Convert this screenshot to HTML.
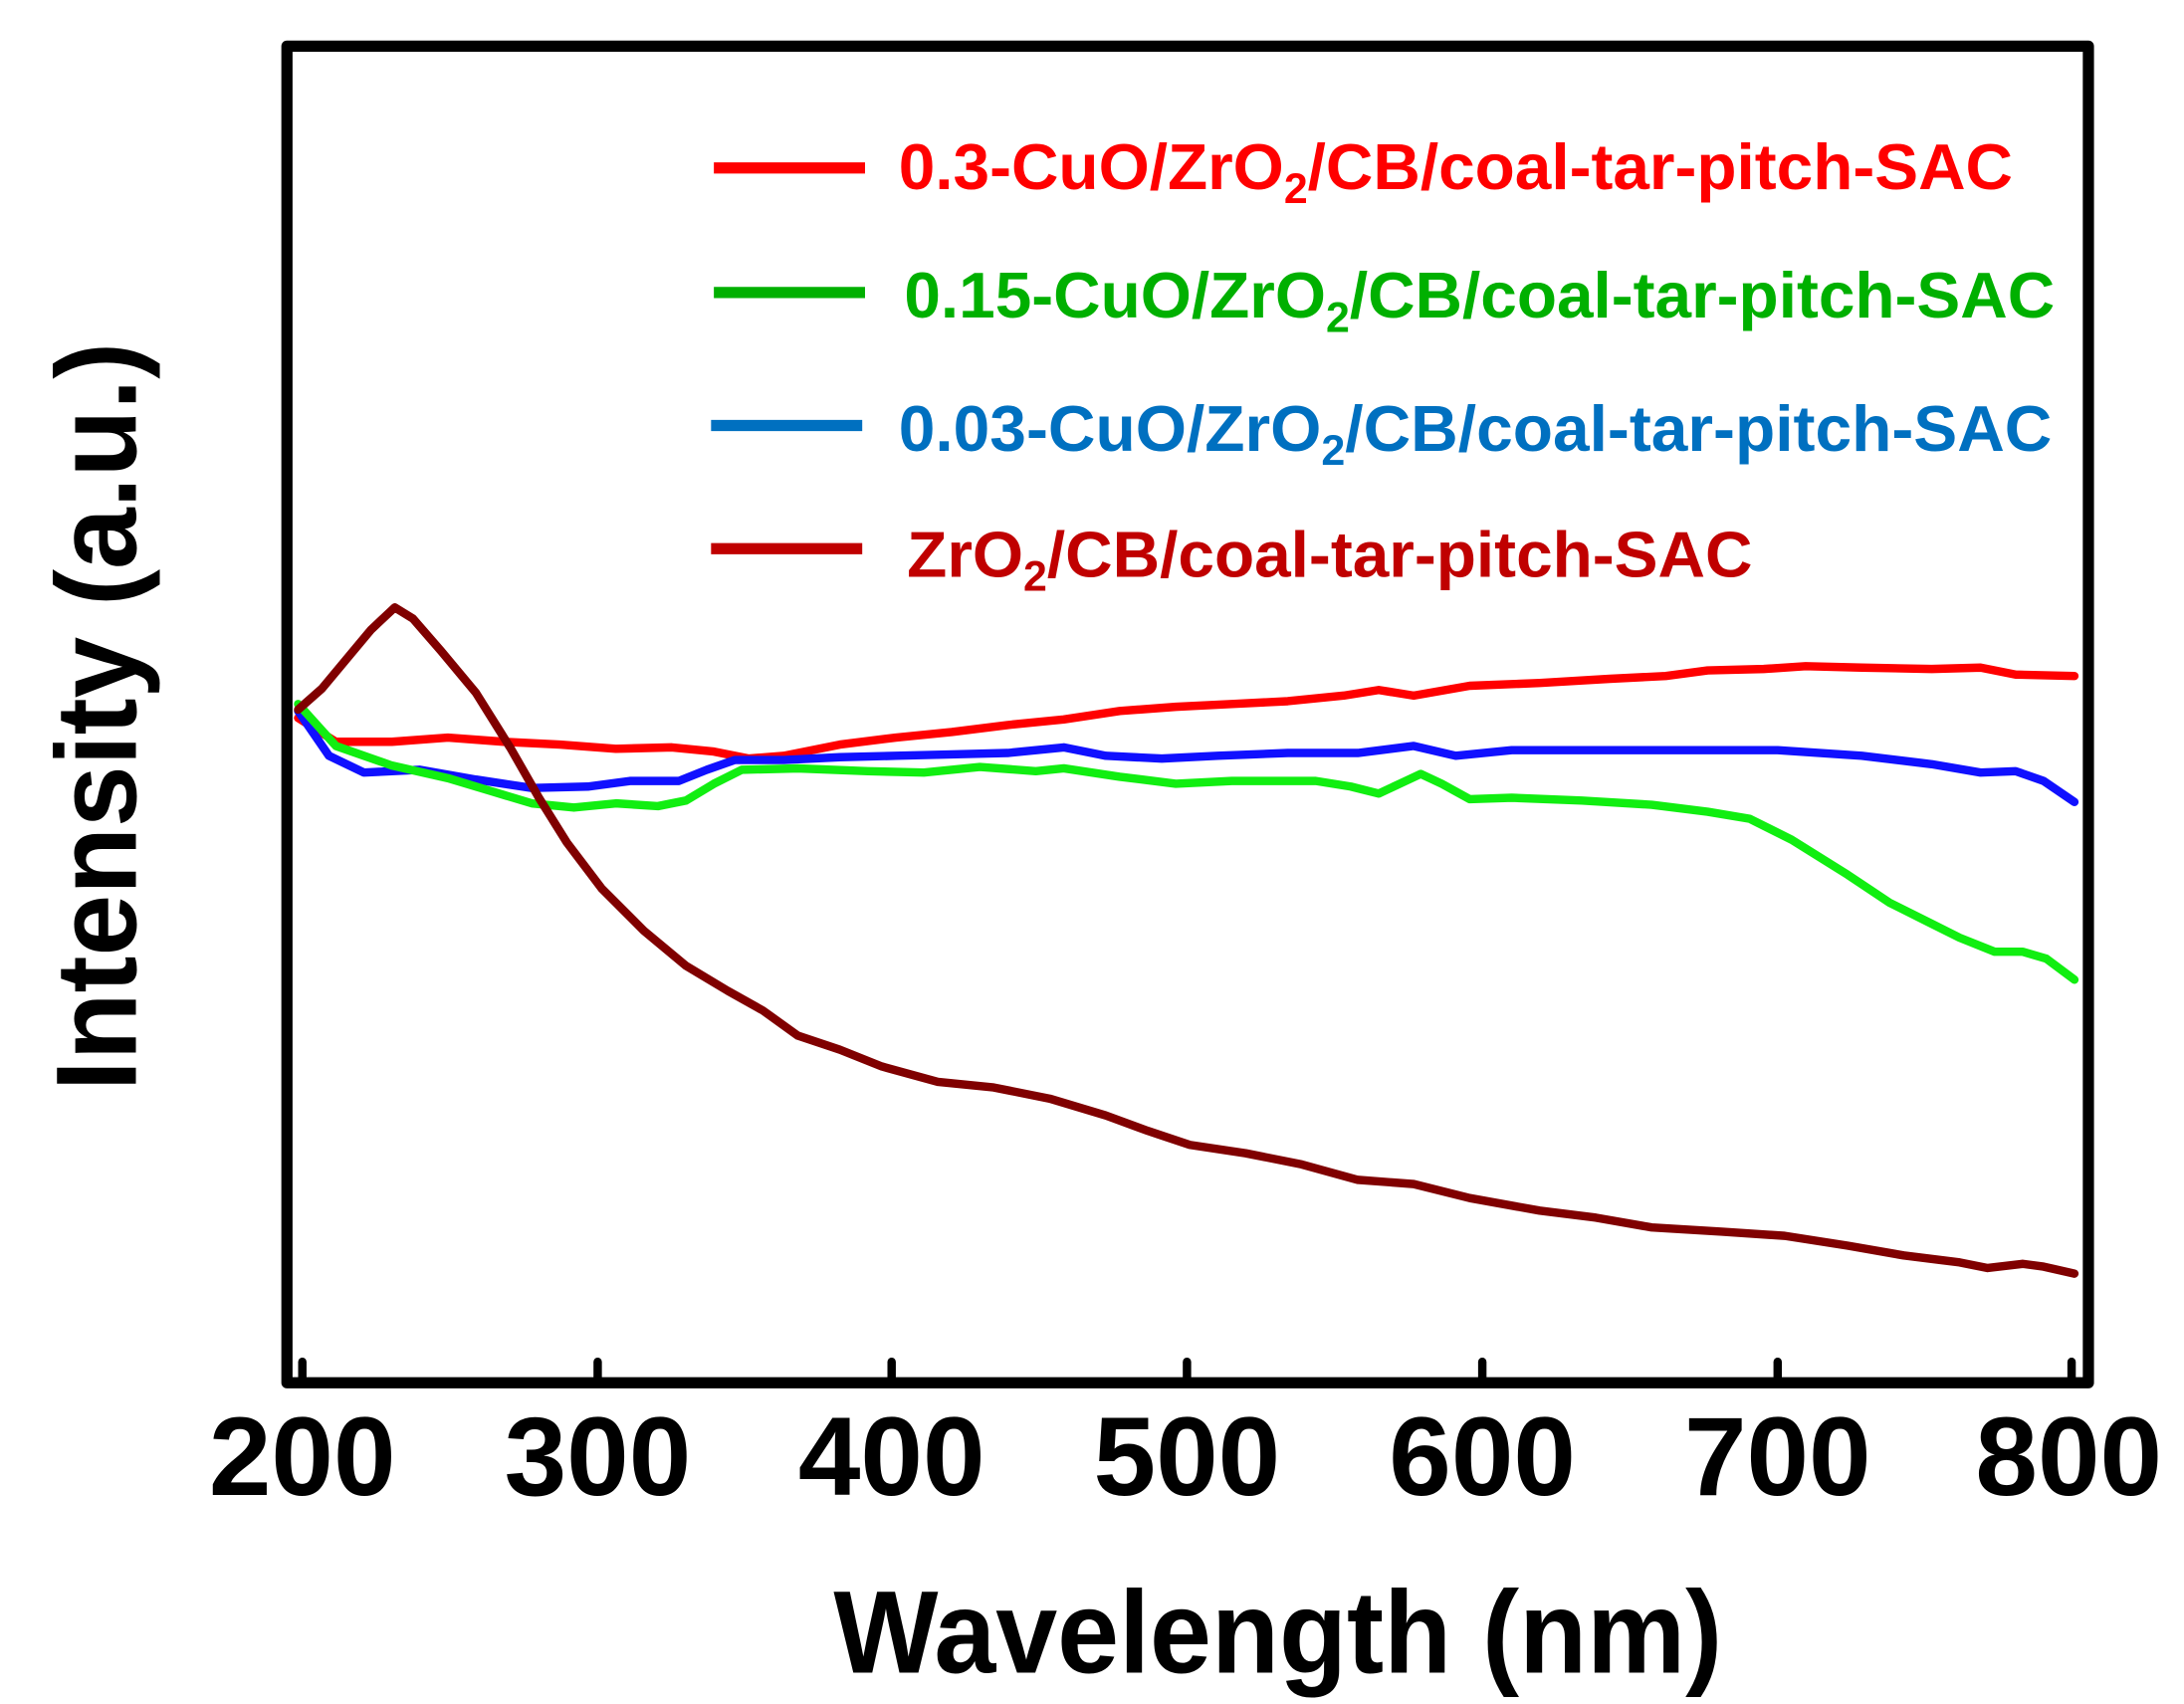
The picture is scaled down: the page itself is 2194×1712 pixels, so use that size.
<!DOCTYPE html>
<html><head><meta charset="utf-8"><style>html,body{margin:0;padding:0;background:#fff}svg{display:block}</style></head>
<body>
<svg width="2194" height="1712" viewBox="0 0 1560.3 1217.5" preserveAspectRatio="none" xmlns="http://www.w3.org/2000/svg" font-family="Liberation Sans, Arial, sans-serif" font-weight="bold">
<rect x="0" y="0" width="1560.3" height="1217.5" fill="#fff"/>
<g fill="none" stroke-width="6" stroke-linejoin="round" stroke-linecap="round">
<polyline stroke="#ff0000" points="213,513 240,530 280,530 320,527 360,530 400,532 440,535 480,534 510,537 535,542 560,540 600,532 640,527 680,523 720,518 760,514 800,508 840,505 880,503 920,501 960,497 985,493 1010,497 1050,490 1100,488 1150,485 1190,483 1220,479 1260,478 1290,476 1330,477 1380,478 1415,477 1440,482 1482,483"/>
<polyline stroke="#1010ff" points="213,508 235,540 260,552 300,550 340,557 380,563 420,562 450,558 485,558 505,550 525,543 560,543 600,541 640,540 680,539 720,538 760,534 790,540 830,542 870,540 920,538 970,538 1010,533 1040,540 1080,536 1150,536 1270,536 1330,540 1380,546 1415,552 1440,551 1460,558 1482,573"/>
<polyline stroke="#11ee11" points="213,503 240,533 280,547 320,556 350,565 380,574 410,577 440,574 470,576 490,572 510,560 530,550 570,549 620,551 660,552 700,548 740,551 760,549 800,555 840,560 880,558 940,558 965,562 985,567 1000,560 1015,553 1030,560 1050,571 1080,570 1130,572 1180,575 1220,580 1250,585 1280,600 1320,625 1350,645 1380,660 1400,670 1425,680 1445,680 1462,685 1482,700"/>
<polyline stroke="#800000" points="213,507 230,492 250,468 265,450 282,434 295,442 315,465 340,495 365,535 385,570 405,602 430,635 460,665 490,690 520,708 545,722 570,740 600,750 630,762 670,773 710,777 750,785 790,797 820,808 850,818 890,824 930,832 970,843 1010,846 1050,856 1100,865 1140,870 1180,877 1230,880 1275,883 1320,890 1360,897 1400,902 1420,906 1445,903 1460,905 1482,910"/>
</g>
<rect x="205" y="33" width="1287" height="955" fill="none" stroke="#000" stroke-width="8" stroke-linejoin="round"/>
<g stroke="#000" stroke-width="6" stroke-linecap="round">
<line x1="216" y1="986" x2="216" y2="973"/><line x1="427" y1="986" x2="427" y2="973"/><line x1="637" y1="986" x2="637" y2="973"/><line x1="848" y1="986" x2="848" y2="973"/><line x1="1059" y1="986" x2="1059" y2="973"/><line x1="1270" y1="986" x2="1270" y2="973"/><line x1="1480" y1="986" x2="1480" y2="973"/>
</g>
<g font-size="80" text-anchor="middle" fill="#000">
<text x="216" y="1068">200</text><text x="427" y="1068">300</text><text x="637" y="1068">400</text><text x="848" y="1068">500</text><text x="1059" y="1068">600</text><text x="1270" y="1068">700</text><text x="1478" y="1068">800</text>
</g>
<text x="913" y="1195" font-size="84" text-anchor="middle" textLength="635" lengthAdjust="spacingAndGlyphs">Wavelength (nm)</text>
<text transform="translate(97,512) rotate(-90)" font-size="82" text-anchor="middle" textLength="535" lengthAdjust="spacingAndGlyphs">Intensity (a.u.)</text>
<g stroke-width="8">
<line x1="510" y1="120" x2="618" y2="120" stroke="#ff0000"/>
<line x1="510" y1="209" x2="618" y2="209" stroke="#00b000"/>
<line x1="508" y1="304" x2="616" y2="304" stroke="#0070c0"/>
<line x1="508" y1="392" x2="616" y2="392" stroke="#c00000"/>
</g>
<g font-size="46">
<text x="642" y="135" fill="#ff0000" textLength="796" lengthAdjust="spacingAndGlyphs">0.3-CuO/ZrO<tspan font-size="30" dy="10">2</tspan><tspan dy="-10">/CB/coal-tar-pitch-SAC</tspan></text>
<text x="646" y="227" fill="#00b000" textLength="822" lengthAdjust="spacingAndGlyphs">0.15-CuO/ZrO<tspan font-size="30" dy="10">2</tspan><tspan dy="-10">/CB/coal-tar-pitch-SAC</tspan></text>
<text x="642" y="322" fill="#0070c0" textLength="824" lengthAdjust="spacingAndGlyphs">0.03-CuO/ZrO<tspan font-size="30" dy="10">2</tspan><tspan dy="-10">/CB/coal-tar-pitch-SAC</tspan></text>
<text x="648" y="412" fill="#c00000" textLength="604" lengthAdjust="spacingAndGlyphs">ZrO<tspan font-size="30" dy="10">2</tspan><tspan dy="-10">/CB/coal-tar-pitch-SAC</tspan></text>
</g>
</svg>
</body></html>
